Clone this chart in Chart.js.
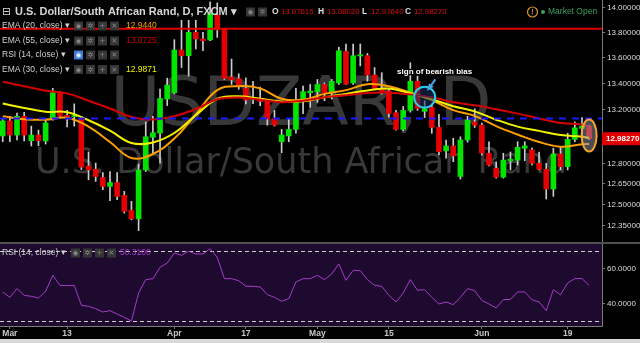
<!DOCTYPE html>
<html>
<head>
<meta charset="utf-8">
<script src="https://cdn.jsdelivr.net/npm/chart.js@4.4.0/dist/chart.umd.min.js"></script>
<style>
html,body{margin:0;padding:0;background:#000;}
</style>
</head>
<body>
<canvas id="c" width="640" height="343"></canvas>
<script>
// daily bars, FXCM USD/ZAR
const dates = ['Feb 28',
 'Mar 1','Mar 2','Mar 3','Mar 6','Mar 7','Mar 8','Mar 9','Mar 10','Mar 13','Mar 14','Mar 15','Mar 16','Mar 17',
 'Mar 20','Mar 21','Mar 22','Mar 23','Mar 24','Mar 27','Mar 28','Mar 29','Mar 30','Mar 31',
 'Apr 3','Apr 4','Apr 5','Apr 6','Apr 7','Apr 10','Apr 11','Apr 12','Apr 13','Apr 14','Apr 17','Apr 18','Apr 19',
 'Apr 20','Apr 21','Apr 24','Apr 25','Apr 26','Apr 27','Apr 28',
 'May 1','May 2','May 3','May 4','May 5','May 8','May 9','May 10','May 11','May 12','May 15','May 16','May 17',
 'May 18','May 19','May 22','May 23','May 24','May 25','May 26','May 29','May 30','May 31',
 'Jun 1','Jun 2','Jun 5','Jun 6','Jun 7','Jun 8','Jun 9','Jun 12','Jun 13','Jun 14','Jun 15','Jun 16',
 'Jun 19','Jun 20','Jun 21','Jun 22'];

const open = [13.003,13.116,13.010,13.151,12.968,13.010,12.966,13.134,13.330,13.158,
 13.148,13.134,12.781,12.757,12.696,12.632,12.660,12.567,12.459,12.399,
 12.752,12.993,13.025,13.282,13.330,13.661,13.616,13.800,13.748,13.740,
 13.937,13.820,13.450,13.437,13.363,13.280,13.289,13.264,13.134,12.960,
 13.003,13.052,13.274,13.330,13.338,13.393,13.330,13.405,13.650,13.405,
 13.614,13.616,13.466,13.356,13.343,13.178,13.052,13.195,13.418,13.188,
 13.219,13.067,12.892,12.929,12.704,12.973,13.108,13.084,12.875,12.764,
 12.699,12.819,12.824,12.912,12.899,12.800,12.757,12.613,12.869,12.776,
 12.978,13.060,13.07615];
const high = [13.136,13.151,13.175,13.180,13.077,13.047,13.136,13.363,13.338,13.195,
 13.245,13.145,12.884,12.802,12.732,12.740,12.732,12.596,12.524,12.795,
 13.108,13.151,13.358,13.442,13.742,13.896,13.896,13.896,13.800,14.044,
 14.035,13.828,13.590,13.476,13.445,13.418,13.373,13.274,13.195,13.052,
 13.134,13.363,13.380,13.393,13.432,13.405,13.432,13.682,13.708,13.708,
 13.708,13.634,13.524,13.484,13.356,13.195,13.225,13.561,13.458,13.269,
 13.247,13.165,12.973,12.986,12.997,13.151,13.208,13.099,12.960,12.812,
 12.875,12.884,12.960,12.960,12.912,12.884,12.800,12.912,12.922,13.023,
 13.108,13.141,13.08020];
const low = [12.960,12.960,12.973,12.966,12.929,12.931,12.943,13.121,13.145,13.071,
 13.077,12.755,12.680,12.668,12.608,12.529,12.536,12.440,12.392,12.315,
 12.740,12.877,12.802,13.232,13.321,13.524,13.458,13.669,13.655,13.734,
 13.760,13.432,13.393,13.356,13.245,13.247,13.232,13.084,13.077,12.879,
 12.960,13.023,13.171,13.219,13.256,13.269,13.282,13.393,13.393,13.393,
 13.537,13.418,13.356,13.319,13.145,13.047,13.042,13.182,13.195,13.141,
 13.023,12.862,12.838,12.812,12.685,12.958,13.067,12.862,12.781,12.692,
 12.692,12.752,12.788,12.820,12.788,12.752,12.541,12.560,12.752,12.752,
 12.960,12.973,12.97640];
const close = [13.116,13.010,13.151,13.010,13.010,12.968,13.101,13.330,13.151,13.141,
 13.150,12.773,12.752,12.704,12.632,12.660,12.560,12.452,12.399,12.752,
 12.997,13.027,13.286,13.387,13.661,13.616,13.800,13.748,13.734,13.951,
 13.820,13.440,13.429,13.380,13.274,13.288,13.264,13.131,13.084,13.010,
 13.052,13.274,13.338,13.343,13.393,13.330,13.418,13.655,13.397,13.616,
 13.624,13.466,13.363,13.336,13.173,13.052,13.195,13.418,13.210,13.208,
 13.067,12.886,12.929,12.855,12.973,13.121,13.084,12.875,12.788,12.699,
 12.824,12.830,12.919,12.929,12.800,12.757,12.613,12.869,12.776,12.978,
 13.064,13.077,12.98270];

// moving averages, read every third bar
const emaIdx = [0,3,6,9,12,15,18,21,24,27,30,33,36,39,42,45,48,51,54,57,60,63,66,69,72,75,78,81,82];
const ema20 = [13.151,13.128,13.125,13.140,13.073,12.958,12.840,12.869,12.984,13.165,13.350,13.380,13.363,13.284,
 13.276,13.321,13.350,13.395,13.380,13.330,13.273,13.197,13.154,13.077,13.014,12.958,12.923,12.941,12.944];
const ema30 = [13.247,13.214,13.185,13.182,13.121,13.043,12.951,12.955,13.025,13.158,13.284,13.302,13.284,13.262,
 13.265,13.295,13.321,13.347,13.362,13.325,13.280,13.227,13.188,13.125,13.073,13.041,13.010,12.997,12.9871];
const ema55 = [13.414,13.380,13.345,13.325,13.269,13.210,13.145,13.126,13.152,13.206,13.280,13.293,13.276,13.258,
 13.269,13.295,13.310,13.328,13.330,13.317,13.295,13.257,13.234,13.204,13.171,13.134,13.101,13.088,13.0725];

const rsi = [46.55,43.48,48.47,44.63,44.05,43.09,46.93,56.15,50.39,50.20,
 50.39,38.87,38.29,36.94,35.02,35.79,33.87,31.95,29.8,45.97,
 53.66,54.23,60.77,63.26,69.03,67.68,70.01,68.45,68.45,71.52,
 66.53,54.23,54.23,53.08,49.82,49.82,49.43,45.01,43.48,41.17,
 42.71,52.31,54.23,54.23,56.15,53.66,56.92,62.69,53.27,59.04,
 58.85,53.66,50.39,49.82,44.63,40.79,45.97,53.66,47.51,47.9,
 43.48,39.63,40.79,39.25,43.48,48.47,47.32,41.75,39.63,37.33,
 42.13,42.3,46.55,46.6,42.13,40.79,35.79,47.89,45.01,51.74,
 54.23,54.3,50.31];

const tickIdx = [1,9,24,34,44,54,67,79];
const tickLabels = ['Mar','13','Apr','17','May','15','Jun','19'];
const priceTicks = [14.0,13.8,13.6,13.4,13.2,12.8,12.65,12.5,12.35];
const rsiTicks = [60,40];
const rsiLevels = [70,30];
const resistance = 13.828;
const support = 13.134;

const UP = '#00e400', DOWN = '#e40000', WICK = '#cccccc';
const last = close.length - 1;

function iconBoxes(ctx, x, yc, n, blueFirst) {
  const syms = ['◉','✲','+','✕'];
  ctx.font = '7px "DejaVu Sans"';
  ctx.textAlign = 'center';
  ctx.textBaseline = 'middle';
  for (let k = 0; k < n; k++) {
    const bx = x + k * 12;
    ctx.fillStyle = (blueFirst && k == 0) ? '#3a7bd5' : '#363636';
    ctx.fillRect(bx, yc - 4.5, 9, 9);
    ctx.fillStyle = (blueFirst && k == 0) ? '#e6f0ff' : '#888';
    ctx.fillText(syms[k], bx + 4.5, yc + 0.5);
  }
  ctx.textAlign = 'left';
}

// no label padding, panes go edge to edge
function noPad(s) {
  s.paddingTop = 0; s.paddingBottom = 0; s.paddingLeft = 0; s.paddingRight = 0;
}

const decor = {
  id: 'decor',
  beforeDraw(chart) {
    const {ctx, chartArea: a, scales: {y, yr}} = chart;
    ctx.save();
    ctx.fillStyle = '#000';
    ctx.fillRect(0, 0, chart.width, chart.height);
    ctx.fillStyle = '#1d0a2e';
    ctx.fillRect(a.left, yr.top, a.right - a.left, yr.bottom - yr.top);
    // watermark
    const cx = (a.left + a.right) / 2;
    ctx.fillStyle = '#383838';
    ctx.textAlign = 'center';
    ctx.textBaseline = 'alphabetic';
    ctx.font = '68px "DejaVu Sans"';
    ctx.fillText('USDZAR, D', cx, y.top + 125);
    ctx.font = '35px "DejaVu Sans"';
    ctx.fillText('U.S. Dollar/South African Rand', cx, y.top + 173);
    ctx.fillStyle = '#d8d8d8';
    ctx.fillRect(0, chart.height - 4, chart.width, 4);
    ctx.restore();
  },
  beforeDatasetsDraw(chart) {
    const {ctx, chartArea: a, scales: {yr}} = chart;
    ctx.save();
    ctx.strokeStyle = '#d0d0d0';
    ctx.lineWidth = 1;
    ctx.setLineDash([4, 3]);
    rsiLevels.forEach(v => {
      const py = Math.round(yr.getPixelForValue(v)) + 0.5;
      ctx.beginPath(); ctx.moveTo(a.left, py); ctx.lineTo(a.right, py); ctx.stroke();
    });
    ctx.restore();
  },
  afterDatasetsDraw(chart) {
    const {ctx, chartArea: a, scales: {x, y}} = chart;
    ctx.save();
    let py = y.getPixelForValue(resistance);
    ctx.strokeStyle = '#e00000'; ctx.lineWidth = 2;
    ctx.beginPath(); ctx.moveTo(a.left, py); ctx.lineTo(a.right, py); ctx.stroke();
    py = y.getPixelForValue(support);
    ctx.strokeStyle = '#1a1aff'; ctx.setLineDash([7, 6]);
    ctx.beginPath(); ctx.moveTo(a.left, py); ctx.lineTo(a.right, py); ctx.stroke();
    ctx.setLineDash([]);
    // pane separator
    ctx.strokeStyle = '#505050'; ctx.lineWidth = 2;
    ctx.beginPath(); ctx.moveTo(0, y.bottom); ctx.lineTo(chart.width, y.bottom); ctx.stroke();
    // bearish circle + arrow + note
    const cx = x.getPixelForValue(59), cy = y.getPixelForValue(13.296);
    ctx.beginPath(); ctx.arc(cx, cy, 10.5, 0, Math.PI * 2);
    ctx.fillStyle = 'rgba(20,45,100,0.55)'; ctx.fill();
    ctx.strokeStyle = '#2ccde8'; ctx.lineWidth = 2; ctx.stroke();
    const ax0 = x.getPixelForValue(60.5), ay0 = y.getPixelForValue(13.432);
    const ax1 = x.getPixelForValue(59.5), ay1 = y.getPixelForValue(13.356);
    ctx.strokeStyle = '#49a6e6'; ctx.lineWidth = 2;
    ctx.beginPath(); ctx.moveTo(ax0, ay0); ctx.lineTo(ax1, ay1); ctx.stroke();
    const ang = Math.atan2(ay1 - ay0, ax1 - ax0);
    ctx.fillStyle = '#49a6e6';
    ctx.beginPath();
    ctx.moveTo(ax1 + Math.cos(ang) * 2, ay1 + Math.sin(ang) * 2);
    ctx.lineTo(ax1 - Math.cos(ang - 0.5) * 6, ay1 - Math.sin(ang - 0.5) * 6);
    ctx.lineTo(ax1 - Math.cos(ang + 0.5) * 6, ay1 - Math.sin(ang + 0.5) * 6);
    ctx.closePath(); ctx.fill();
    ctx.font = 'bold 8px "Liberation Sans"';
    ctx.textAlign = 'center'; ctx.textBaseline = 'middle';
    const tx = x.getPixelForValue(60.4), ty = y.getPixelForValue(13.49);
    ctx.strokeStyle = '#000'; ctx.lineWidth = 2.5; ctx.lineJoin = 'round';
    ctx.strokeText('sign of bearish bias', tx, ty);
    ctx.fillStyle = '#fff';
    ctx.fillText('sign of bearish bias', tx, ty);
    // last-bar ellipse
    const ex = x.getPixelForValue(last), ey = y.getPixelForValue(13.006);
    ctx.beginPath(); ctx.ellipse(ex, ey, 7.5, 16, 0, 0, Math.PI * 2);
    ctx.fillStyle = 'rgba(150,150,170,0.5)'; ctx.fill();
    ctx.strokeStyle = '#f2a52a'; ctx.lineWidth = 2; ctx.stroke();
    ctx.restore();
  },
  afterDraw(chart) {
    const {ctx, chartArea: a, scales: {y, yr}} = chart;
    ctx.save();
    // last price tag
    const py = y.getPixelForValue(close[last]);
    ctx.fillStyle = '#e00000';
    ctx.fillRect(a.right, py - 6.5, chart.width - a.right, 13);
    ctx.fillStyle = '#fff';
    ctx.font = 'bold 8px "Liberation Sans"';
    ctx.textBaseline = 'middle'; ctx.textAlign = 'left';
    ctx.fillText(close[last].toFixed(5), a.right + 4, py + 0.5);

    // title row
    ctx.fillStyle = '#d6d6d6';
    ctx.font = '11px "DejaVu Sans"';
    ctx.fillText('⊟', 2, 12);
    ctx.font = 'bold 11px "Liberation Sans"';
    ctx.fillText('U.S. Dollar/South African Rand, D, FXCM ▾', 15, 12);
    iconBoxes(ctx, 246, 12, 2, false);
    const ohlc = [['O', 272, open[last]], ['H', 318, high[last]], ['L', 362, low[last]], ['C', 405, close[last]]];
    ohlc.forEach(([k, px, v]) => {
      ctx.fillStyle = '#ddd'; ctx.font = 'bold 8.5px "Liberation Sans"';
      ctx.fillText(k, px, 12);
      ctx.fillStyle = '#e01010'; ctx.font = '7.8px "Liberation Sans"';
      ctx.fillText(v.toFixed(5), px + 9, 12);
    });
    ctx.strokeStyle = '#e0902a'; ctx.lineWidth = 1.2;
    ctx.beginPath(); ctx.arc(532.5, 12, 5, 0, Math.PI * 2); ctx.stroke();
    ctx.fillStyle = '#e0902a'; ctx.font = 'bold 7px "Liberation Sans"'; ctx.textAlign = 'center';
    ctx.fillText('!', 532.5, 12.5);
    ctx.textAlign = 'left';
    ctx.fillStyle = '#3aa060';
    ctx.beginPath(); ctx.arc(543, 12, 2, 0, Math.PI * 2); ctx.fill();
    ctx.font = '8.5px "Liberation Sans"';
    ctx.fillText('Market Open', 548, 12);

    // indicator rows
    const rows = [
      ['EMA (20, close) ▾', 26, ema20[ema20.length - 1].toFixed(4), '#f5a000', false],
      ['EMA (55, close) ▾', 41, ema55[ema55.length - 1].toFixed(4), '#cc0000', false],
      ['RSI (14, close) ▾', 55, '', '', true],
      ['EMA (30, close) ▾', 69.5, ema30[ema30.length - 1].toFixed(4), '#f0f000', false]
    ];
    rows.forEach(([txt, yc, val, col, blue]) => {
      ctx.font = '8.5px "Liberation Sans"'; ctx.fillStyle = '#d0d0d0';
      ctx.fillText(txt, 2, yc);
      iconBoxes(ctx, 74, yc, 4, blue);
      if (val) {
        ctx.font = '8.5px "Liberation Sans"'; ctx.fillStyle = col;
        ctx.fillText(val, 126, yc);
      }
    });
    // rsi pane legend
    const ry = yr.top + 10;
    ctx.font = '8.5px "Liberation Sans"'; ctx.fillStyle = '#d0d0d0';
    ctx.fillText('RSI (14, close) ▾', 2, ry);
    iconBoxes(ctx, 71, ry, 4, false);
    ctx.font = '8.5px "Liberation Sans"'; ctx.fillStyle = '#a63cc8';
    ctx.fillText(rsi[last].toFixed(4), 120, ry);
    ctx.restore();
  }
};

const ctx = document.getElementById('c').getContext('2d');
new Chart(ctx, {
  data: {
    datasets: [
      {
        type: 'bar', label: 'range', order: 3, yAxisID: 'y',
        data: dates.map((d, i) => ({x: i, y: [low[i], high[i]]})),
        backgroundColor: WICK, barThickness: 1, grouped: false
      },
      {
        type: 'bar', label: 'USDZAR', order: 2, yAxisID: 'y',
        data: dates.map((d, i) => ({x: i, y: [open[i], close[i]]})),
        backgroundColor: dates.map((d, i) => close[i] >= open[i] ? UP : DOWN),
        barThickness: 5, minBarLength: 1, grouped: false
      },
      {
        type: 'line', label: 'EMA 55', order: 1, yAxisID: 'y',
        data: emaIdx.map((v, k) => ({x: v, y: ema55[k]})),
        borderColor: '#d40000', borderWidth: 2, pointRadius: 0, tension: 0.4
      },
      {
        type: 'line', label: 'EMA 30', order: 1, yAxisID: 'y',
        data: emaIdx.map((v, k) => ({x: v, y: ema30[k]})),
        borderColor: '#f2f200', borderWidth: 2, pointRadius: 0, tension: 0.4
      },
      {
        type: 'line', label: 'EMA 20', order: 1, yAxisID: 'y',
        data: emaIdx.map((v, k) => ({x: v, y: ema20[k]})),
        borderColor: '#ffa000', borderWidth: 2, pointRadius: 0, tension: 0.4
      },
      {
        type: 'line', label: 'RSI', order: 1, yAxisID: 'yr',
        data: rsi.map((v, i) => ({x: i, y: v})),
        borderColor: '#a63cc8', borderWidth: 1, pointRadius: 0, tension: 0
      }
    ]
  },
  options: {
    responsive: false,
    animation: false,
    layout: {padding: {left: 0, right: 0, top: 0, bottom: 4}},
    plugins: {legend: {display: false}, tooltip: {enabled: false}},
    scales: {
      x: {
        type: 'linear', position: 'bottom', min: -0.38, max: 83.8, offset: false, bounds: 'data',
        afterBuildTicks: s => { s.ticks = tickIdx.map(v => ({value: v})); },
        afterFit: s => { s.height = 13; noPad(s); },
        ticks: {
          autoSkip: false, maxRotation: 0, padding: 0, color: '#c8c8c8',
          font: {size: 8.5, weight: 'bold', family: '"Liberation Sans"'},
          callback: v => { const k = tickIdx.indexOf(v); return k >= 0 ? tickLabels[k] : ''; }
        },
        grid: {drawOnChartArea: false, offset: false, color: '#777', tickLength: 3},
        border: {color: '#7a7a7a'}
      },
      y: {
        type: 'logarithmic', position: 'right', stack: 'panes', stackWeight: 243,
        min: 12.228, max: 14.0588, bounds: 'data',
        afterBuildTicks: s => { s.ticks = priceTicks.map(v => ({value: v})); },
        afterFit: s => { s.width = 38; noPad(s); },
        ticks: {
          padding: 2, color: '#dcdcdc',
          font: {size: 8, family: '"Liberation Sans"'},
          callback: v => Number(v).toFixed(5)
        },
        grid: {drawOnChartArea: false, color: '#777', tickLength: 3},
        border: {color: '#7a7a7a'}
      },
      yr: {
        type: 'linear', position: 'right', stack: 'panes', stackWeight: 83,
        min: 26.95, max: 74.78, bounds: 'data',
        afterBuildTicks: s => { s.ticks = rsiTicks.map(v => ({value: v})); },
        afterFit: s => { s.width = 38; noPad(s); },
        ticks: {
          padding: 2, color: '#dcdcdc',
          font: {size: 8, family: '"Liberation Sans"'},
          callback: v => Number(v).toFixed(4)
        },
        grid: {drawOnChartArea: false, color: '#777', tickLength: 3},
        border: {color: '#7a7a7a'}
      }
    }
  },
  plugins: [decor]
});
</script>
</body>
</html>
